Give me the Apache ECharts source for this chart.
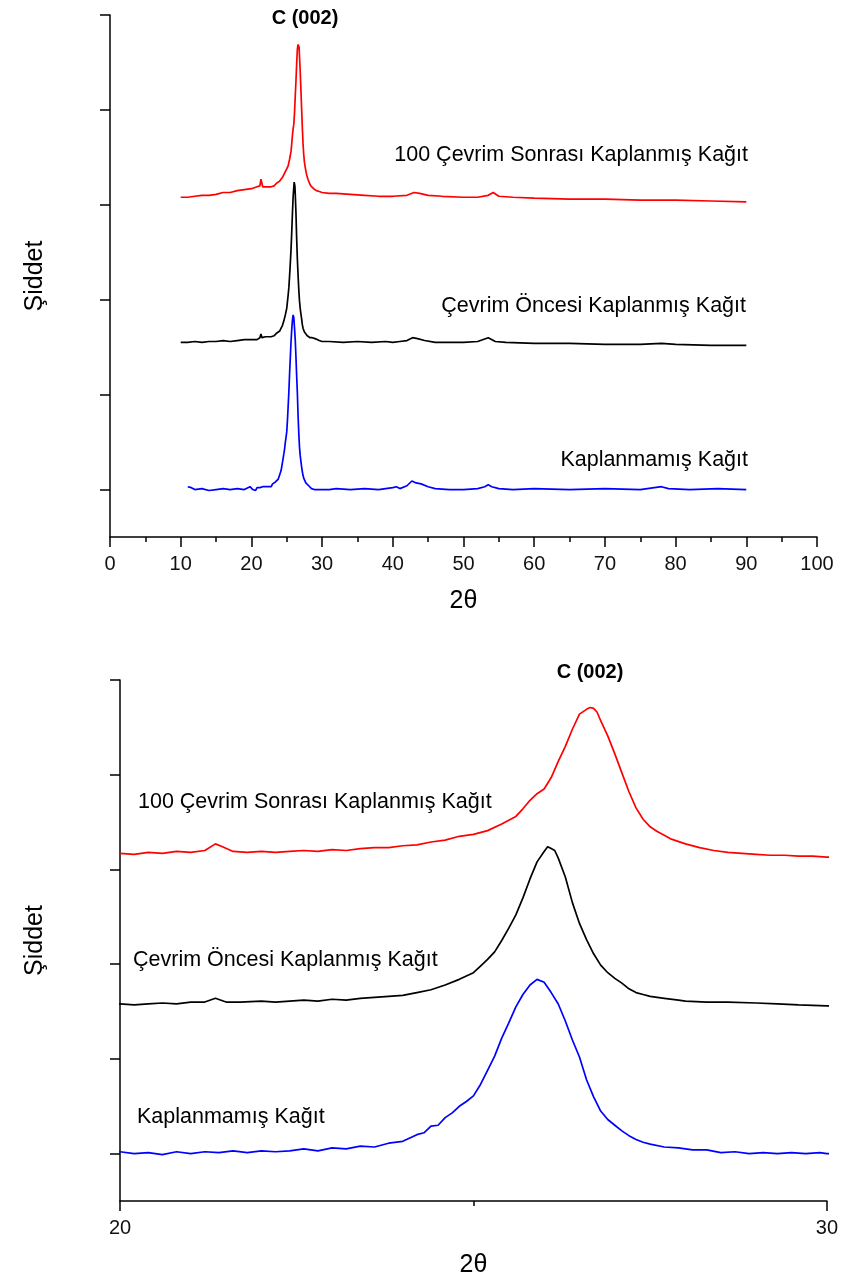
<!DOCTYPE html>
<html>
<head>
<meta charset="utf-8">
<title>XRD</title>
<script src="https://cdn.jsdelivr.net/npm/echarts@6/dist/echarts.min.js"></script>
<style>
  html, body { margin: 0; padding: 0; background: #fff; }
  #mycharts { width: 841px; height: 1282px; }
</style>
</head>
<body>
<div id="mycharts"></div>
<script>
// 2θ / intensity pairs (intensity in tick units, offset per curve)
const uncoated = [
  [11, 0.03], [11.5, 0.02], [12, 0.0], [13, 0.01], [14, -0.01], [15, 0.0], [16, 0.01], [17, 0.0], [18, 0.01], [19, 0.0], [19.8, 0.03],
  [20.0, 0.02], [20.2, 0.0], [20.4, 0.01], [20.6, -0.01], [20.8, 0.02], [21.0, 0.0], [21.2, 0.02], [21.4, 0.01], [21.6, 0.03], [21.8, 0.01],
  [22.0, 0.03], [22.2, 0.02], [22.4, 0.03], [22.6, 0.05], [22.8, 0.03], [23.0, 0.06], [23.2, 0.05], [23.4, 0.08], [23.6, 0.07], [23.8, 0.11],
  [24.0, 0.13], [24.2, 0.2], [24.3, 0.22], [24.4, 0.29], [24.5, 0.3], [24.6, 0.38], [24.7, 0.43], [24.8, 0.5], [24.9, 0.55],
  [25.0, 0.61], [25.1, 0.73], [25.2, 0.88], [25.3, 1.03], [25.4, 1.22], [25.5, 1.38], [25.6, 1.55], [25.7, 1.68], [25.8, 1.78], [25.9, 1.84],
  [26.0, 1.81], [26.1, 1.7], [26.2, 1.58], [26.3, 1.4], [26.4, 1.2], [26.5, 1.02], [26.6, 0.78], [26.7, 0.6], [26.8, 0.45], [26.9, 0.36],
  [27.0, 0.3], [27.1, 0.24], [27.2, 0.19], [27.3, 0.15], [27.4, 0.12], [27.5, 0.1], [27.7, 0.07], [27.9, 0.06], [28.1, 0.04], [28.3, 0.04],
  [28.5, 0.01], [28.7, 0.02], [28.9, 0.0], [29.1, 0.01], [29.3, 0.0], [29.5, 0.01], [29.7, 0.0], [29.9, 0.01], [30.0, 0.0],
  [31, 0.0], [32, 0.01], [34, 0.0], [36, 0.01], [38, 0.0], [40, 0.02], [40.5, 0.03], [41, 0.01], [42, 0.04], [42.7, 0.09], [43.3, 0.07],
  [44, 0.06], [45, 0.03], [46, 0.01], [48, 0.0], [50, 0.0], [52, 0.01], [53, 0.03], [53.5, 0.05], [54, 0.03], [55, 0.01], [57, 0.0],
  [60, 0.01], [65, 0.0], [70, 0.01], [75, 0.0], [78, 0.03], [79, 0.01], [82, 0.0], [86, 0.01], [90, 0.0]
];
const beforeCycle = [
  [10, 1.55], [11, 1.55], [12, 1.56], [13, 1.55], [14, 1.56], [15, 1.56], [16, 1.57], [17, 1.56], [18, 1.57], [19, 1.58],
  [20.0, 1.58], [20.2, 1.57], [20.4, 1.58], [20.6, 1.59], [20.8, 1.58], [21.0, 1.6], [21.2, 1.6], [21.35, 1.64], [21.5, 1.6], [21.7, 1.6],
  [22.0, 1.61], [22.2, 1.6], [22.4, 1.61], [22.6, 1.62], [22.8, 1.61], [23.0, 1.63], [23.2, 1.62], [23.4, 1.64], [23.6, 1.65], [23.8, 1.66],
  [24.0, 1.67], [24.2, 1.7], [24.4, 1.73], [24.6, 1.78], [24.8, 1.84], [25.0, 1.91], [25.1, 1.98], [25.2, 2.05], [25.3, 2.13], [25.4, 2.25],
  [25.5, 2.38], [25.6, 2.52], [25.7, 2.7], [25.8, 2.9], [25.9, 3.08], [26.0, 3.19], [26.05, 3.24], [26.1, 3.22], [26.15, 3.2], [26.2, 3.12],
  [26.3, 2.92], [26.4, 2.65], [26.5, 2.43], [26.6, 2.26], [26.7, 2.11], [26.8, 1.99], [26.9, 1.91], [27.0, 1.85], [27.1, 1.8], [27.2, 1.74],
  [27.3, 1.7], [27.4, 1.68], [27.5, 1.66], [27.7, 1.64], [27.9, 1.62], [28.0, 1.61], [28.3, 1.6], [28.6, 1.6], [29.0, 1.59], [29.3, 1.58],
  [29.6, 1.57], [30.0, 1.56],
  [31, 1.56], [33, 1.55], [35, 1.56], [37, 1.55], [39, 1.56], [40, 1.55], [41, 1.56], [42, 1.57], [42.8, 1.6], [43.5, 1.59], [44.5, 1.57],
  [46, 1.55], [48, 1.55], [50, 1.55], [52, 1.56], [53.5, 1.6], [54.5, 1.56], [56, 1.55], [60, 1.54], [65, 1.54], [70, 1.53], [75, 1.53],
  [78, 1.54], [80, 1.53], [85, 1.52], [90, 1.52]
];
const after100 = [
  [10, 3.08], [11, 3.08], [12, 3.09], [13, 3.1], [14, 3.1], [15, 3.11], [16, 3.13], [17, 3.13], [18, 3.15], [19, 3.16],
  [20.0, 3.17], [20.2, 3.16], [20.4, 3.18], [20.6, 3.17], [20.8, 3.19], [21.0, 3.18], [21.2, 3.2], [21.35, 3.27], [21.45, 3.24], [21.6, 3.19],
  [21.8, 3.18], [22.0, 3.19], [22.2, 3.18], [22.4, 3.19], [22.6, 3.2], [22.8, 3.19], [23.0, 3.21], [23.2, 3.2], [23.4, 3.22], [23.6, 3.23],
  [23.8, 3.23], [24.0, 3.25], [24.2, 3.26], [24.4, 3.29], [24.6, 3.31], [24.8, 3.35], [25.0, 3.37], [25.2, 3.41], [25.4, 3.48], [25.6, 3.56],
  [25.7, 3.64], [25.8, 3.73], [25.9, 3.8], [26.0, 3.85], [26.1, 3.97], [26.2, 4.14], [26.3, 4.3], [26.4, 4.48], [26.5, 4.64], [26.6, 4.69],
  [26.65, 4.71], [26.7, 4.7], [26.75, 4.66], [26.8, 4.57], [26.9, 4.41], [27.0, 4.22], [27.1, 4.02], [27.2, 3.82], [27.3, 3.65], [27.4, 3.53],
  [27.5, 3.45], [27.6, 3.4], [27.7, 3.36], [27.8, 3.32], [28.0, 3.27], [28.2, 3.23], [28.4, 3.2], [28.6, 3.18], [28.8, 3.17], [29.0, 3.16],
  [29.2, 3.15], [29.4, 3.15], [29.6, 3.14], [29.8, 3.14], [30.0, 3.13],
  [31, 3.12], [32, 3.12], [34, 3.11], [36, 3.1], [38, 3.09], [40, 3.09], [42, 3.1], [43, 3.13], [43.8, 3.12], [45, 3.1], [47, 3.09],
  [50, 3.08], [52, 3.08], [53.5, 3.1], [54.2, 3.13], [55, 3.09], [57, 3.08], [60, 3.07], [65, 3.06], [70, 3.06], [75, 3.05],
  [80, 3.05], [85, 3.04], [90, 3.03]
];
const yTicks = [0, 1, 2, 3, 4, 5];
const labelTexts = ["100 Çevrim Sonrası Kaplanmış Kağıt", "Çevrim Öncesi Kaplanmış Kağıt", "Kaplanmamış Kağıt"];

const FONT = "Liberation Sans, Arial, sans-serif";
const lineColors = ["#ff0000", "#000000", "#0000ff"];
const seriesData = [after100, beforeCycle, uncoated];

function yAxis(gridIndex, gap) {
  return {
    gridIndex: gridIndex,
    type: "value",
    min: -0.5,
    max: 5,
    name: "Şiddet",
    nameLocation: "middle",
    nameGap: gap,
    nameTextStyle: { fontFamily: FONT, fontSize: 25, color: "#000" },
    axisLine: { show: true, onZero: false, lineStyle: { color: "#000", width: 1.5 } },
    axisTick: { show: true, customValues: yTicks, length: 10, lineStyle: { color: "#000", width: 1.5 } },
    axisLabel: { show: false },
    splitLine: { show: false }
  };
}

// major ticks every 10 with a short minor tick halfway
function xAxis(gridIndex, min, max) {
  return {
    gridIndex: gridIndex, type: "value", min: min, max: max, interval: 10,
    name: "2θ", nameLocation: "middle", nameGap: 52,
    nameTextStyle: { fontFamily: FONT, fontSize: 25, color: "#000" },
    axisLine: { onZero: false, lineStyle: { color: "#000", width: 1.5 } },
    axisTick: { length: 10, lineStyle: { color: "#000", width: 1.5 } },
    minorTick: { show: true, splitNumber: 2, length: 5, lineStyle: { color: "#000", width: 1.5 } },
    axisLabel: { fontFamily: FONT, fontSize: 20, color: "#111", margin: 17 },
    splitLine: { show: false }
  };
}

let charts = echarts.init(document.getElementById("mycharts"));
let option = {
  animation: false,
  backgroundColor: "#fff",
  grid: [
    { left: 110, right: 24, top: 15, height: 522 },
    { left: 120, right: 14, top: 680, height: 521 }
  ],
  xAxis: [xAxis(0, 0, 100), xAxis(1, 20, 30)],
  yAxis: [yAxis(0, 62), yAxis(1, 72)],
  series: [],
  graphic: [
    // top panel annotations
    { type: "text", style: { text: "C (002)", x: 305, y: 18, font: "bold 20px " + FONT, fill: "#000", textAlign: "center", textVerticalAlign: "middle" } },
    { type: "text", style: { text: labelTexts[0], x: 748, y: 155, font: "21.5px " + FONT, fill: "#000", textAlign: "right", textVerticalAlign: "middle" } },
    { type: "text", style: { text: labelTexts[1], x: 746, y: 306, font: "21.5px " + FONT, fill: "#000", textAlign: "right", textVerticalAlign: "middle" } },
    { type: "text", style: { text: labelTexts[2], x: 748, y: 460, font: "21.5px " + FONT, fill: "#000", textAlign: "right", textVerticalAlign: "middle" } },
    // bottom panel annotations
    { type: "text", style: { text: "C (002)", x: 590, y: 672, font: "bold 20px " + FONT, fill: "#000", textAlign: "center", textVerticalAlign: "middle" } },
    { type: "text", style: { text: labelTexts[0], x: 138, y: 802, font: "21.5px " + FONT, fill: "#000", textAlign: "left", textVerticalAlign: "middle" } },
    { type: "text", style: { text: labelTexts[1], x: 133, y: 960, font: "21.5px " + FONT, fill: "#000", textAlign: "left", textVerticalAlign: "middle" } },
    { type: "text", style: { text: labelTexts[2], x: 137, y: 1117, font: "21.5px " + FONT, fill: "#000", textAlign: "left", textVerticalAlign: "middle" } }
  ]
};

// same three scans drawn in both panels
[0, 1].forEach(function (g) {
  seriesData.forEach(function (d, i) {
    option.series.push({
      type: "line",
      xAxisIndex: g,
      yAxisIndex: g,
      data: d,
      showSymbol: false,
      clip: true,
      lineStyle: { color: lineColors[i], width: 1.7 },
      itemStyle: { color: lineColors[i] }
    });
  });
});

charts.setOption(option);
</script>
</body>
</html>
